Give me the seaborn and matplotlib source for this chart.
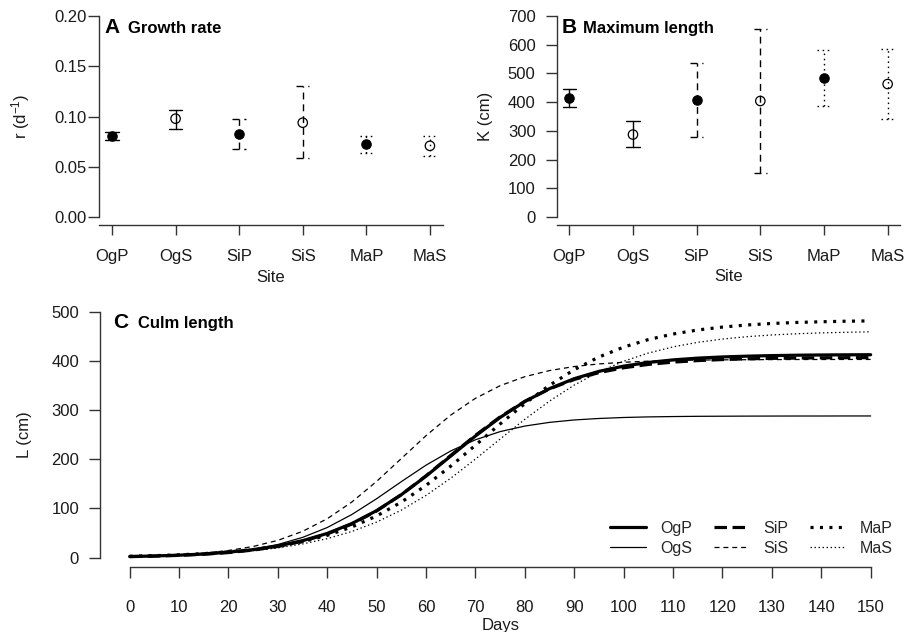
import numpy as np
import pandas as pd
import matplotlib
matplotlib.use("Agg")
import matplotlib.pyplot as plt
import seaborn as sns
from matplotlib.lines import Line2D

# ---------------- data ----------------
sites = ["OgP", "OgS", "SiP", "SiS", "MaP", "MaS"]

r_mean = [0.081, 0.098, 0.083, 0.094, 0.073, 0.071]
r_low = [0.077, 0.088, 0.068, 0.059, 0.064, 0.061]
r_high = [0.085, 0.107, 0.098, 0.130, 0.081, 0.081]

K_mean = [413, 287, 406, 404, 483, 463]
K_low = [382, 244, 279, 153, 385, 341]
K_high = [446, 333, 535, 654, 583, 585]

days = list(range(0, 151, 5))
L_OgP = [2.3, 3.4, 5.0, 7.4, 11.0, 16.2, 23.7, 34.4, 49.2, 69.4, 95.6, 128.0, 165.7,
         206.5, 247.3, 285.0, 317.4, 343.6, 363.8, 378.7, 389.3, 396.8, 402.0, 405.6,
         408.0, 409.6, 410.7, 411.5, 412.0, 412.3, 412.5]
L_OgS = [1.6, 2.6, 4.2, 6.7, 10.8, 17.1, 26.7, 41.1, 61.2, 87.8, 119.8, 154.5, 188.0,
         216.9, 239.6, 256.2, 267.5, 275.0, 279.9, 282.9, 284.9, 286.1, 286.8, 287.3,
         287.5, 287.7, 287.8, 287.9, 287.9, 288.0, 288.0]
L_SiP = [2.0, 3.1, 4.6, 6.9, 10.3, 15.4, 22.7, 33.3, 48.1, 68.4, 95.0, 128.0, 166.4,
         207.7, 248.6, 286.1, 317.8, 343.1, 362.2, 376.2, 386.0, 392.8, 397.5, 400.6,
         402.7, 404.2, 405.1, 405.7, 406.2, 406.4, 406.6]
L_SiS = [2.3, 3.6, 5.8, 9.2, 14.5, 22.7, 35.1, 53.4, 79.1, 113.2, 155.0, 201.5, 248.0,
         289.8, 323.9, 349.6, 367.9, 380.3, 388.5, 393.8, 397.2, 399.4, 400.7, 401.6,
         402.1, 402.4, 402.6, 402.8, 402.8, 402.9, 402.9]
L_MaP = [2.8, 4.0, 5.7, 8.1, 11.6, 16.4, 23.2, 32.5, 45.3, 62.4, 84.7, 112.8, 146.9,
         186.0, 228.5, 271.8, 313.2, 350.4, 382.1, 407.9, 428.0, 443.3, 454.6, 462.8,
         468.7, 473.0, 476.0, 478.1, 479.5, 480.6, 481.3]
L_MaS = [2.5, 3.5, 5.0, 7.0, 10.0, 14.1, 19.8, 27.8, 38.6, 53.2, 72.3, 96.6, 126.5,
         161.5, 200.4, 241.1, 281.2, 318.3, 350.8, 377.7, 399.3, 415.9, 428.4, 437.7,
         444.4, 449.2, 452.7, 455.1, 456.9, 458.1, 459.0]

r_ticks = [0.00, 0.05, 0.10, 0.15, 0.20]
K_ticks = [0, 100, 200, 300, 400, 500, 600, 700]
L_ticks = [0, 100, 200, 300, 400, 500]
day_ticks = list(range(0, 151, 10))

# ---------------- style ----------------
sns.set_theme(style="ticks")
plt.rcParams["font.family"] = ["Liberation Sans", "DejaVu Sans"]
plt.rcParams["mathtext.fontset"] = "custom"
plt.rcParams["mathtext.rm"] = "Liberation Sans"
plt.rcParams["mathtext.it"] = "Liberation Sans:italic"
plt.rcParams["lines.scale_dashes"] = False

AX = "#333333"
TXT = "#1a1a1a"

err_ls = {"Og": "-", "Si": (0, (5, 3.5)), "Ma": (0, (1.1, 2.6))}
curve_style = {
    "OgP": dict(lw=2.3, ls="-"),
    "OgS": dict(lw=0.9, ls="-"),
    "SiP": dict(lw=2.3, ls=(0, (9, 4))),
    "SiS": dict(lw=0.9, ls=(0, (3.6, 2.8))),
    "MaP": dict(lw=2.3, ls=(0, (2.2, 4.6))),
    "MaS": dict(lw=0.9, ls=(0, (1.0, 1.9))),
}
curves = {"OgP": L_OgP, "OgS": L_OgS, "SiP": L_SiP, "SiS": L_SiS, "MaP": L_MaP, "MaS": L_MaS}

fig = plt.figure(figsize=(9.05, 6.32), dpi=100)
axA = fig.add_axes([0.1097, 0.6435, 0.3794, 0.3438])
axB = fig.add_axes([0.6150, 0.6440, 0.3799, 0.3434])
axC = fig.add_axes([0.1105, 0.1021, 0.8843, 0.4203])

cap = 0.105


def param_panel(ax, mean, low, high, ticks, ylim, ylabel, letter, title, fmt, ypad, ylab_x):
    df = pd.DataFrame({"site": sites, "pos": np.arange(1, len(sites) + 1),
                       "mean": mean, "low": low, "high": high})
    df["type"] = df["site"].str[-1]
    for _, row in df.iterrows():
        ls = err_ls[row["site"][:2]]
        p = row["pos"]
        ax.plot([p, p], [row["low"], row["high"]], color="black", lw=1.0, ls=ls, zorder=2)
        ax.plot([p - cap, p + cap], [row["low"], row["low"]], color="black", lw=1.0, ls=ls, zorder=2)
        ax.plot([p - cap, p + cap], [row["high"], row["high"]], color="black", lw=1.0, ls=ls, zorder=2)
    filled = df[df["type"] == "P"]
    opened = df[df["type"] == "S"]
    sns.scatterplot(data=filled, x="pos", y="mean", ax=ax, color="black", s=46,
                    edgecolor="black", linewidth=0.8, zorder=3, legend=False)
    sns.scatterplot(data=opened, x="pos", y="mean", ax=ax, color="black", s=46,
                    edgecolor="black", linewidth=0.9, zorder=3, legend=False)
    ax.collections[-1].set_facecolor("none")
    ax.set_xlim(0.8, 6.2)
    ax.set_ylim(*ylim)
    ax.set_xticks(df["pos"])
    ax.set_xticklabels(sites)
    ax.set_yticks(ticks)
    ax.set_yticklabels([fmt.format(t) for t in ticks])
    ax.spines[["top", "right"]].set_visible(False)
    ax.spines["left"].set_bounds(ticks[0], ticks[-1])
    for s in ("left", "bottom"):
        ax.spines[s].set_color(AX)
        ax.spines[s].set_linewidth(1.0)
    ax.tick_params(axis="x", length=7.3, width=1.0, color=AX, pad=10, labelsize=12, labelcolor=TXT)
    ax.tick_params(axis="y", length=7.6, width=1.0, color=AX, pad=ypad, labelsize=12, labelcolor=TXT)
    ax.set_xlabel("Site", fontsize=12, color=TXT)
    ax.xaxis.set_label_coords(0.5, -0.205)
    ax.set_ylabel(ylabel, fontsize=12, color=TXT)
    ax.yaxis.set_label_coords(ylab_x, 0.5)
    ax.text(0.015, 0.884, letter, transform=ax.transAxes, fontsize=15, fontweight="bold",
            color="black", va="baseline", ha="left")
    ax.text(0.085 if letter == "A" else 0.077, 0.884, title, transform=ax.transAxes, fontsize=12,
            fontweight="bold", color="black", va="baseline", ha="left")


param_panel(axA, r_mean, r_low, r_high, r_ticks, (-0.008, 0.208), r"r (d$^{-1}$)",
            "A", "Growth rate", "{:.2f}", 1.5, -0.196)
param_panel(axB, K_mean, K_low, K_high, K_ticks, (-28, 728), "K (cm)",
            "B", "Maximum length", "{:.0f}", 7.5, -0.185)

# ---------------- panel C ----------------
long = pd.DataFrame({"day": days * len(sites),
                     "site": np.repeat(sites, len(days)),
                     "L": np.concatenate([curves[s] for s in sites])})
handles = []
for s in sites:
    sub = long[long["site"] == s]
    st = curve_style[s]
    sns.lineplot(data=sub, x="day", y="L", ax=axC, color="black", lw=st["lw"],
                 linestyle=st["ls"], legend=False, dash_capstyle="butt")
    handles.append(Line2D([], [], color="black", lw=st["lw"], linestyle=st["ls"],
                          dash_capstyle="butt"))

axC.set_xlim(-6, 156)
axC.set_ylim(-20, 520)
axC.set_xticks(day_ticks)
axC.set_yticks(L_ticks)
axC.spines[["top", "right"]].set_visible(False)
axC.spines["left"].set_bounds(0, 500)
axC.spines["bottom"].set_bounds(0, 150)
for s in ("left", "bottom"):
    axC.spines[s].set_color(AX)
    axC.spines[s].set_linewidth(1.0)
axC.tick_params(axis="x", length=7.6, width=1.0, color=AX, pad=16, labelsize=12, labelcolor=TXT)
axC.tick_params(axis="y", length=7.6, width=1.0, color=AX, pad=7.5, labelsize=12, labelcolor=TXT)
axC.set_xlabel("Days", fontsize=12, color=TXT)
axC.xaxis.set_label_coords(0.5, -0.19)
axC.set_ylabel("L (cm)", fontsize=12, color=TXT)
axC.yaxis.set_label_coords(-0.0846, 0.5)
axC.text(0.0166, 0.9006, "C", transform=axC.transAxes, fontsize=15, fontweight="bold",
         color="black", va="baseline", ha="left")
axC.text(0.0475, 0.9006, "Culm length", transform=axC.transAxes, fontsize=12, fontweight="bold",
         color="black", va="baseline", ha="left")

order = ["OgP", "OgS", "SiP", "SiS", "MaP", "MaS"]
axC.legend([handles[sites.index(s)] for s in order], order, ncol=3, loc="lower right",
           bbox_to_anchor=(0.99, 0.045), frameon=False, fontsize=11.5, borderpad=0,
           borderaxespad=0, handlelength=2.2, handletextpad=0.9, columnspacing=1.35,
           labelspacing=0.3)

fig.savefig("out.png", dpi=100)
